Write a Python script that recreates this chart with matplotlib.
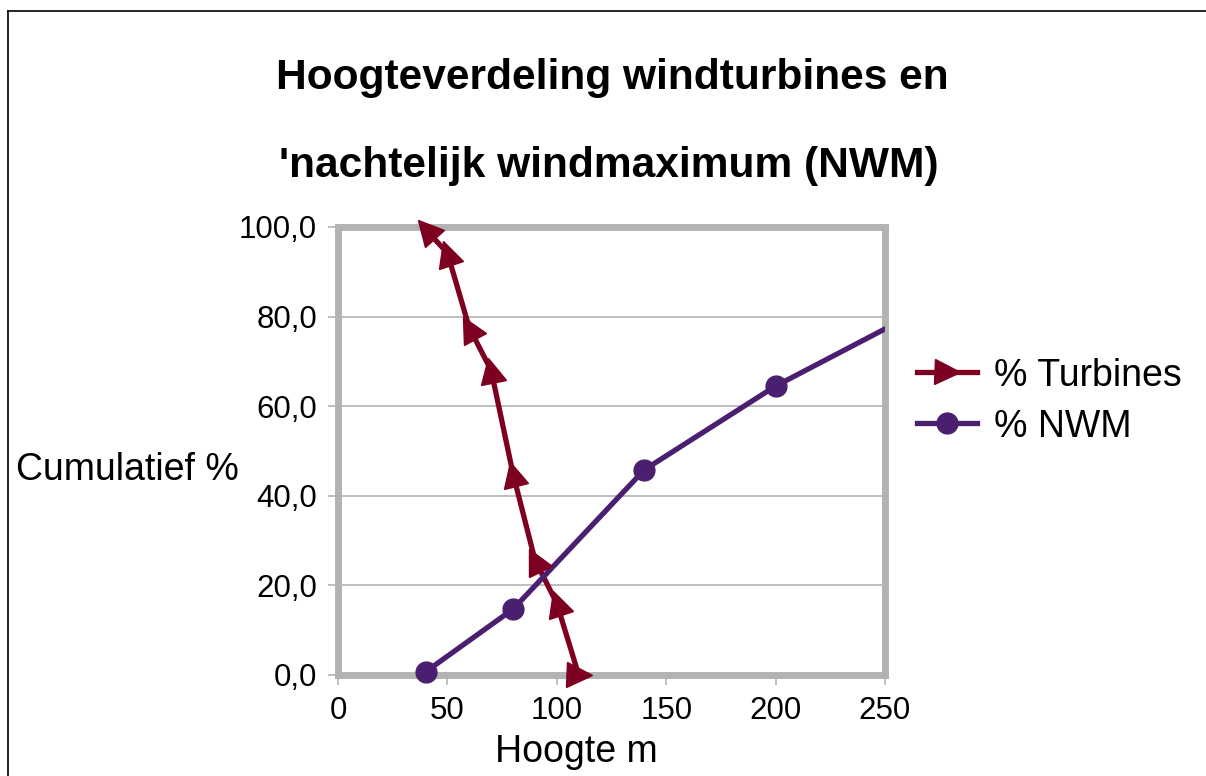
import numpy as np
import matplotlib
matplotlib.use("Agg")
import matplotlib.pyplot as plt
from matplotlib.markers import MarkerStyle
from matplotlib.transforms import Affine2D, Bbox, TransformedBbox
from matplotlib.lines import Line2D

plt.rcParams['font.family'] = ['Liberation Sans', 'DejaVu Sans']

# data
hoogte_turbines = [40, 50, 60, 70, 80, 90, 100, 110]
pct_turbines = [99.5, 94.2, 77.5, 68.0, 44.9, 25.7, 16.0, 0.0]
hoogte_nwm = [40, 80, 140, 200, 300]
pct_nwm = [0.7, 14.7, 45.8, 64.5, 90.0]

x_ticks = [0, 50, 100, 150, 200, 250]
y_ticks = [0, 20, 40, 60, 80, 100]
y_tick_labels = ['0,0', '20,0', '40,0', '60,0', '80,0', '100,0']

title_lines = ['Hoogteverdeling windturbines en', "'nachtelijk windmaximum (NWM)"]

RED = '#7e0021'
PURPLE = '#4b1f6f'
GREY = '#b3b3b3'

W, H = 1206, 776
fig = plt.figure(figsize=(W / 100, H / 100), dpi=100)
ax = fig.add_axes([338 / W, 1 - 675 / H, (885 - 338) / W, (675 - 227) / H])

ax.set_xlim(0, 250)
ax.set_ylim(0, 100)
ax.set_xticks(x_ticks)
ax.set_yticks(y_ticks)
ax.set_yticklabels(y_tick_labels)
ax.tick_params(axis='both', labelsize=22.5, color=GREY, width=1.2, length=7, pad=8)

for s in ax.spines.values():
    s.set_color(GREY)
    s.set_linewidth(5)
ax.yaxis.grid(True, color=GREY, linewidth=1.2)
ax.set_axisbelow(True)

# turbines line, markers turned along the line like in the original
ax.plot(hoogte_turbines, pct_turbines, color=RED, lw=3.8, zorder=4, clip_on=False)
pts = ax.transData.transform(np.column_stack([hoogte_turbines, pct_turbines]))
for i in range(len(pts)):
    if i < len(pts) - 1:
        d = pts[i] - pts[i + 1]
        ang = np.degrees(np.arctan2(d[1], d[0]))
    else:
        ang = 0
    m = MarkerStyle('>', transform=Affine2D().rotate_deg(ang))
    ax.plot(hoogte_turbines[i], pct_turbines[i], marker=m, ms=18, color=RED,
            ls='none', zorder=5, clip_on=False)

# NWM line, clipped only at the right edge
nwm_line, = ax.plot(hoogte_nwm, pct_nwm, color=PURPLE, lw=3.8, marker='o', ms=15,
                    zorder=4)
nwm_line.set_clip_box(TransformedBbox(Bbox([[-0.1, -0.1], [1.0, 1.1]]), ax.transAxes))

handles = [Line2D([], [], color=RED, lw=3.8, marker='>', ms=18),
           Line2D([], [], color=PURPLE, lw=3.8, marker='o', ms=15)]
fig.legend(handles, ['% Turbines', '% NWM'], loc='center left',
           bbox_to_anchor=(883 / W, 1 - 401 / H), frameon=False, fontsize=27,
           handlelength=1.6, handletextpad=0.45, labelspacing=0.4)

fig.text(612 / W, 1 - 78 / H, title_lines[0], ha='center', va='center',
         fontsize=30.6, fontweight='bold')
fig.text(609 / W, 1 - 166 / H, title_lines[1], ha='center', va='center',
         fontsize=30.6, fontweight='bold')
fig.text(127 / W, 1 - 470 / H, 'Cumulatief %', ha='center', va='center', fontsize=27)
fig.text(576 / W, 1 - 752 / H, 'Hoogte m', ha='center', va='center', fontsize=27)

# frame around the chart (left and top edges visible)
fig.add_artist(Line2D([7.5 / W, 7.5 / W], [0, 1 - 11 / H], color='black', lw=1.2))
fig.add_artist(Line2D([7.5 / W, 1], [1 - 11 / H, 1 - 11 / H], color='black', lw=1.2))

fig.savefig('out.png', dpi=100)
